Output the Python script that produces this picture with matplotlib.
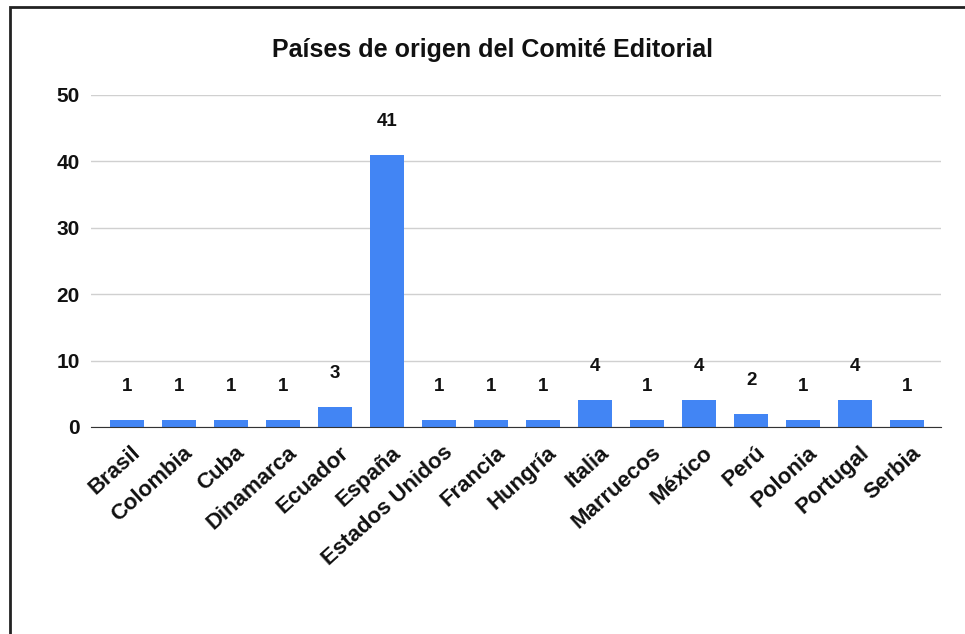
import matplotlib.pyplot as plt
import matplotlib.transforms as mtransforms
from matplotlib.patches import Rectangle

paises = ["Brasil", "Colombia", "Cuba", "Dinamarca", "Ecuador", "España",
          "Estados Unidos", "Francia", "Hungría", "Italia", "Marruecos",
          "México", "Perú", "Polonia", "Portugal", "Serbia"]
miembros = [1, 1, 1, 1, 3, 41, 1, 1, 1, 4, 1, 4, 2, 1, 4, 1]
yticks = [0, 10, 20, 30, 40, 50]

plt.rcParams["font.family"] = ["Liberation Sans", "DejaVu Sans"]
plt.rcParams["font.weight"] = "bold"

fig = plt.figure(figsize=(9.65, 6.34), dpi=100)
ax = fig.add_axes([91 / 965, 1 - 427 / 634, 850 / 965, 332 / 634])

x = list(range(len(paises)))
bars = ax.bar(x, miembros, width=0.65, color="#4285f4", zorder=3)

for xi, v in zip(x, miembros):
    ax.annotate(str(v), (xi, v), xytext=(0, 18), textcoords="offset points",
                ha="center", va="bottom", fontsize=13.5, fontweight="bold",
                color="#111111")

ax.set_xlim(-0.69, len(paises) - 1 + 0.65)
ax.set_ylim(0, 50)
ax.set_yticks(yticks)
ax.set_xticks(x)
ax.set_xticklabels(paises, rotation=42, ha="right", va="top",
                   rotation_mode="anchor", fontsize=16, fontweight="bold",
                   color="#111111")
ax.tick_params(axis="y", length=0, pad=8, labelsize=15, labelcolor="#111111")
ax.tick_params(axis="x", length=0, pad=11)

# mover un poco las etiquetas del eje x hacia la derecha
desplaz = mtransforms.ScaledTranslation(4 / 100, 0, fig.dpi_scale_trans)
for lab in ax.get_xticklabels():
    lab.set_transform(lab.get_transform() + desplaz)

ax.grid(axis="y", color="#d0d0d0", linewidth=1, zorder=0)
for s in ["top", "right", "left"]:
    ax.spines[s].set_visible(False)
ax.spines["bottom"].set_color("#333333")
ax.spines["bottom"].set_zorder(4)

fig.text(493 / 965, 1 - 50 / 634, "Países de origen del Comité Editorial",
         ha="center", va="center", fontsize=18, fontweight="bold", color="#111111")

# marco negro (solo se ven los bordes izquierdo y superior)
fig.patches.append(Rectangle((9.5 / 965, -0.1), 1.2, 1 - 7 / 634 + 0.1,
                             transform=fig.transFigure, fill=False,
                             edgecolor="#222222", linewidth=2))

fig.savefig("out.png", dpi=100)
